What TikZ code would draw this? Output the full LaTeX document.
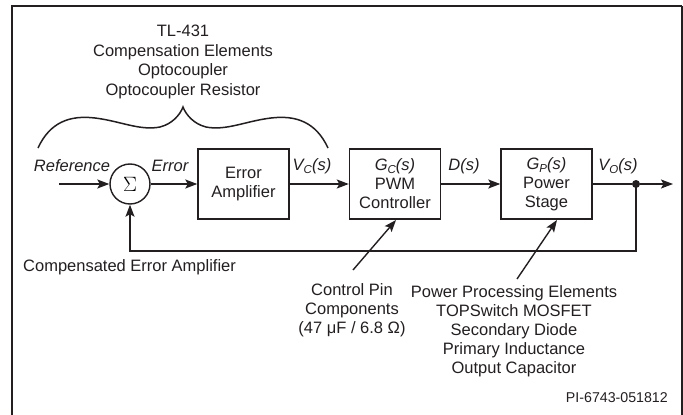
\documentclass[tikz,border=0pt]{standalone}
\usepackage{fontspec}
\setmainfont{Liberation Sans}
\usetikzlibrary{arrows.meta}
\definecolor{ink}{HTML}{231F20}
\newcommand\sbs[1]{\raisebox{-0.35ex}{\fontsize{11.5}{11.5}\selectfont #1}}
\begin{document}
\begin{tikzpicture}[x=1pt,y=-1pt,
  txt/.style={font=\fontsize{16.5}{19}\selectfont, inner sep=0pt, align=center, text=ink},
  lbl/.style={font=\fontsize{16.5}{19}\selectfont\itshape, inner sep=0pt, text=ink},
  blk/.style={draw=ink, line width=1.4pt, minimum width=91pt, minimum height=70pt, inner sep=0pt, align=center, font=\fontsize{16.5}{19}\selectfont, text=ink},
  sig/.style={draw=ink, line width=1.4pt, -{Stealth[length=12pt,width=9pt,inset=2.5pt]}},
  wire/.style={draw=ink, line width=1.4pt}]
\useasboundingbox (0,0) rectangle (683,415);
% frame
\draw[ink, line width=2.4pt, line join=miter] (12,416) -- (12,6) -- (682,6);
\draw[ink, line width=1.2pt] (682,6) -- (682,416);
% blocks
\node[circle, draw=ink, line width=1.4pt, minimum size=40pt, inner sep=0pt] (sum) at (130,184) {\fontsize{21}{21}\selectfont$\Sigma$};
\node[blk] (ea) at (243.5,184) {Error\\Amplifier};
\node[blk] (pwm) at (395,184) {\textit{G\sbs{C}(s)}\\PWM\\Controller};
\node[blk] (ps) at (546.5,184) {\textit{G\sbs{P}(s)}\\Power\\Stage};
\node[circle, fill=ink, inner sep=0pt, minimum size=8pt] (dot) at (636,184) {};
% coordinates
\coordinate (refin) at (59,184);
\coordinate (out) at (673,184);
\coordinate (fb) at (636,251);
% connectors
\draw[sig] (refin) -- (sum);
\draw[sig] (sum) -- (ea);
\draw[sig] (ea) -- (pwm);
\draw[sig] (pwm) -- (ps);
\draw[wire] (ps) -- (dot);
\draw[sig] (dot) -- (out);
\draw[sig, line join=miter] (dot.center) -- (fb) -| (sum.south);
% signal labels
\node[lbl] (lref) at (72,166) {Reference};
\node[lbl] (lerr) at (170,166) {Error};
\node[lbl] (lvc) at (312,166) {V\sbs{C}(s)};
\node[lbl] (lds) at (464,166) {D(s)};
\node[lbl] (lvo) at (618,166) {V\sbs{O}(s)};
% top text and brace
\node[txt, font=\fontsize{16.5}{19.5}\selectfont] (top) at (183,62) {TL-431\\Compensation Elements\\Optocoupler\\Optocoupler Resistor};
\draw[ink, line width=1.5pt] (38,148) .. controls (50,122) and (70,115) .. (95,118)
  .. controls (120,121) and (140,131) .. (160,127)
  .. controls (172,124) and (180,115) .. (183,107)
  .. controls (186,115) and (194,124) .. (206,127)
  .. controls (226,131) and (246,121) .. (271,118)
  .. controls (296,115) and (316,122) .. (328,148);
% bottom texts
\node[txt, anchor=west] (cea) at (23,267) {Compensated Error Amplifier};
\node[txt] (cp) at (352,310) {Control Pin\\Components\\(47 μF / 6.8 Ω)};
\node[txt] (ppe) at (514,331) {Power Processing Elements\\TOPSwitch MOSFET\\Secondary Diode\\Primary Inductance\\Output Capacitor};
\coordinate (cpa) at (353,270);
\coordinate (cpb) at (396,220);
\draw[sig] (cpa) -- (cpb);
\coordinate (ppa) at (517,279);
\coordinate (ppb) at (557,220);
\draw[sig] (ppa) -- (ppb);
\node[font=\fontsize{14.2}{16}\selectfont, anchor=east, inner sep=0pt, text=ink] (pi) at (668,398) {PI-6743-051812};
\end{tikzpicture}
\end{document}
